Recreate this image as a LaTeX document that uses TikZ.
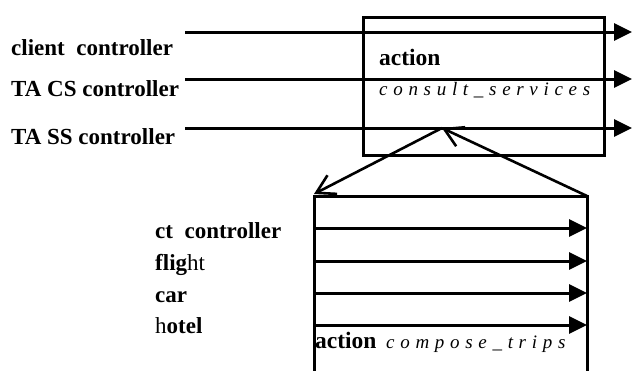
\documentclass[tikz,border=0pt]{standalone}
\usepackage{fontspec}
\setmainfont{Liberation Serif}
\newfontfamily\spacedit[LetterSpace=30]{Liberation Serif Italic}
\usetikzlibrary{arrows.meta}

\tikzset{
  lbl/.style={anchor=base west, inner sep=0pt, font=\fontsize{23}{23}\selectfont\bfseries},
  act/.style={anchor=base west, inner sep=0pt, font=\fontsize{23.5}{23.5}\selectfont\bfseries},
  aname/.style={anchor=base west, inner sep=0pt, font=\fontsize{19}{19}\selectfont\spacedit},
  frame/.style={line width=3pt},
  flow/.style={line width=3pt, -{Triangle[length=18pt,width=17pt]}},
  link/.style={line width=2.6pt, -{Straight Barb[length=18pt,width=21pt,line width=2.6pt]}},
}

\begin{document}
\begin{tikzpicture}[x=1pt,y=-1pt]
\useasboundingbox (0,0) rectangle (632,370);
\clip (0,0) rectangle (632,370);

% upper action box
\node (cs) [frame, draw, anchor=north west, minimum width=241pt, minimum height=138pt, inner sep=0pt] at (362,16) {};
\node (csact) [act] at (379,65) {action};
\node (csname) [aname] at (379,95) {consult\_services};

% controllers entering the upper box
\node (c1) [lbl] at (11,55) {client\ \ controller};
\node (c2) [lbl] at (11,96) {TA CS controller};
\node (c3) [lbl] at (11,144) {TA SS controller};
\coordinate (c1s) at (185,32);  \coordinate (c1e) at (632,32);
\coordinate (c2s) at (185,79);  \coordinate (c2e) at (632,79);
\coordinate (c3s) at (185,128); \coordinate (c3e) at (632,128);
\draw[flow] (c1s) -- (c1e);
\draw[flow] (c2s) -- (c2e);
\draw[flow] (c3s) -- (c3e);

% lower action box, open at the bottom
\coordinate (ctl) at (314,196);
\coordinate (ctr) at (587,196);
\coordinate (cbl) at (314,372);
\coordinate (cbr) at (587,372);
\draw[frame] (cbl) -- (ctl) -- (ctr) -- (cbr);

% refinement links
\coordinate (apex) at (442,128);
\coordinate (ltip) at (314,194);
\draw[link] (apex) -- (ltip);
\draw[link] (ctr) -- (apex);

% components inside the lower box
\node (k1) [lbl] at (155,238) {ct\ \ controller};
\node (k2) [lbl] at (155,270) {fli{\bfseries g}{\mdseries ht}};
\node (k3) [lbl] at (155,302) {car};
\node (k4) [lbl] at (155,333) {{\mdseries h}otel};
\foreach \i/\y in {1/228,2/261,3/293,4/325}{
  \coordinate (k\i s) at (314,\y);
  \coordinate (k\i e) at (587,\y);
  \draw[flow] (k\i s) -- (k\i e);
}
\node (ctact) [act] at (315,348) {action};
\node (ctname) [aname] at (386,348) {compose\_trips};
\end{tikzpicture}
\end{document}
